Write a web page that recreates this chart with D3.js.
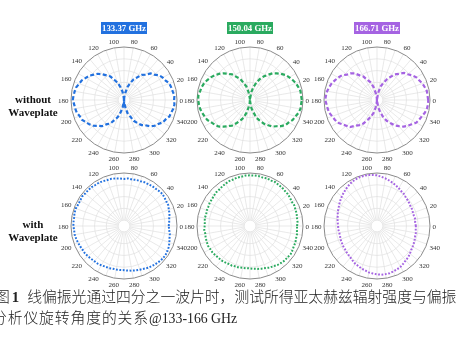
<!DOCTYPE html>
<html><head><meta charset="utf-8">
<script src="https://cdn.jsdelivr.net/npm/d3@7"></script>
<style>
html,body{margin:0;padding:0;background:#fff;}
svg{display:block;will-change:transform;}
</style></head>
<body>
<svg id="c" width="462" height="341"></svg>
<script>
// ---- data ----
const angles = d3.range(0, 360, 5); // analyzer angle (deg)
const freqLabels = ["133.37 GHz", "150.04 GHz", "166.71 GHz"];
const seriesColors = ["#2271df", "#2aaa5f", "#a563e2"];
const rowLabels = [["without", "Waveplate"], ["with", "Waveplate"]];
const angleTicks = d3.range(0, 360, 20);
const ringTicks = [0.2, 0.4, 0.6, 0.8];
const captionLine1 = "线偏振光通过四分之一波片时，测试所得亚太赫兹辐射强度与偏振";
const captionLine2 = "分析仪旋转角度的关系";
const captionLine2b = "@133-166 GHz";

// without waveplate (normalized intensity)
const without133 = [
 .95,.96,.94,.93,.92,.88,.86,.83,.77,.74,.66,.62,.54,.49,.40,.33,.22,.14,
 .03,.13,.24,.32,.41,.47,.56,.61,.67,.73,.77,.82,.85,.89,.91,.94,.95,.96,
 .97,.95,.94,.93,.90,.89,.85,.82,.78,.72,.68,.60,.56,.47,.41,.31,.23,.12,
 .04,.14,.22,.33,.39,.49,.55,.62,.66,.73,.78,.81,.86,.88,.92,.93,.95,.96];
const without150 = [
 .98,.97,.97,.95,.93,.90,.87,.84,.79,.74,.69,.62,.56,.49,.41,.33,.24,.13,
 .04,.12,.23,.34,.40,.50,.55,.63,.68,.74,.79,.83,.87,.90,.93,.95,.96,.98,
 .98,.97,.96,.94,.92,.90,.86,.83,.80,.74,.68,.63,.55,.48,.42,.32,.22,.14,
 .03,.13,.24,.31,.42,.48,.56,.62,.69,.73,.79,.84,.86,.90,.92,.95,.97,.97];
const without166 = [
 .97,.96,.96,.94,.92,.89,.87,.83,.78,.75,.68,.63,.55,.48,.40,.34,.23,.12,
 .03,.14,.22,.33,.42,.47,.56,.61,.69,.74,.77,.83,.86,.89,.92,.94,.96,.97,
 .98,.96,.95,.94,.91,.89,.87,.82,.78,.75,.67,.62,.56,.47,.40,.33,.23,.13,
 .04,.12,.23,.32,.41,.49,.55,.63,.68,.74,.78,.82,.87,.89,.91,.94,.96,.97];
// with waveplate
const with133 = [
 .86,.87,.88,.90,.91,.93,.93,.94,.95,.94,.93,.93,.92,.92,.91,.91,.90,.91,
 .90,.91,.92,.93,.93,.94,.95,.95,.96,.96,.96,.97,.96,.96,.97,.97,.96,.96,
 .96,.95,.95,.94,.93,.92,.91,.91,.90,.89,.88,.88,.87,.86,.86,.85,.85,.85,
 .85,.86,.87,.88,.89,.90,.92,.93,.94,.95,.96,.96,.95,.94,.92,.90,.89,.87];
const with150 = [
 .90,.91,.91,.92,.92,.93,.92,.93,.94,.94,.95,.95,.96,.95,.96,.95,.96,.96,
 .96,.96,.95,.95,.94,.94,.93,.92,.91,.91,.90,.89,.89,.88,.88,.87,.88,.87,
 .87,.88,.87,.88,.88,.89,.88,.88,.87,.86,.86,.85,.84,.84,.83,.83,.82,.82,
 .82,.83,.84,.85,.86,.88,.89,.91,.92,.93,.93,.94,.93,.92,.92,.91,.91,.90];
const with166 = [
 .76,.75,.76,.75,.75,.76,.76,.77,.78,.79,.81,.82,.84,.86,.88,.90,.92,.94,
 .96,.97,.98,.98,.98,.97,.96,.94,.92,.90,.88,.86,.84,.82,.81,.79,.78,.77,
 .76,.76,.75,.75,.76,.76,.77,.77,.78,.79,.80,.82,.84,.85,.87,.88,.90,.91,
 .92,.93,.93,.93,.92,.91,.90,.88,.86,.85,.83,.81,.80,.79,.78,.77,.77,.76];

const rows = [[without133, without150, without166], [with133, with150, with166]];

// ---- layout ----
const svg = d3.select("#c");
const R = 53;
const cx = [124, 250, 377];
const cy = [100, 226];
// radial axis origin sits slightly above zero (values below it pass through the centre)
const rScale = d3.scaleLinear().domain([0.1, 1]).range([0, R]);
const serif = "'Liberation Serif','Times New Roman',serif";
const cjk = "'Noto Sans CJK SC','Noto Sans CJK JP',sans-serif";

rows.forEach((row, ri) => {
  row.forEach((vals, ci) => {
    const g = svg.append("g").attr("transform", `translate(${cx[ci]},${cy[ri]})`);
    const rIn = rScale(ringTicks[0]);
    // rings
    g.selectAll("circle.ring").data(ringTicks).enter().append("circle")
      .attr("r", d => rScale(d)).attr("fill", "none")
      .attr("stroke", "#e0e0e0").attr("stroke-width", 0.7);
    // spokes
    g.selectAll("line.spoke").data(d3.range(0, 360, 10)).enter().append("line")
      .attr("x1", d => rIn * Math.cos(d * Math.PI / 180))
      .attr("y1", d => -rIn * Math.sin(d * Math.PI / 180))
      .attr("x2", d => R * Math.cos(d * Math.PI / 180))
      .attr("y2", d => -R * Math.sin(d * Math.PI / 180))
      .attr("stroke", "#e0e0e0").attr("stroke-width", 0.7);
    // outer circle
    g.append("circle").attr("r", R).attr("fill", "none")
      .attr("stroke", "#8a8a8a").attr("stroke-width", 1);
    // angle labels
    g.selectAll("text.tick").data(angleTicks).enter().append("text")
      .attr("font-family", serif).attr("font-size", 7).attr("fill", "#333")
      .attr("text-anchor", "middle").attr("dominant-baseline", "central")
      .each(function (d) {
        const a = d * Math.PI / 180;
        const w = String(d).length * 3.5;
        const h = 6.5;
        const rr = R + 2.5 + Math.abs(Math.cos(a)) * w / 2 + Math.abs(Math.sin(a)) * h / 2;
        d3.select(this).attr("x", rr * Math.cos(a)).attr("y", -rr * Math.sin(a) + 0.5).text(d);
      });
    // data line
    const line = d3.lineRadial()
      .angle((d, i) => Math.PI / 2 - angles[i] * Math.PI / 180)
      .radius(d => rScale(d))
      .curve(d3.curveLinearClosed);
    g.append("path").attr("d", line(vals)).attr("fill", "none")
      .attr("stroke", seriesColors[ci])
      .attr("stroke-width", ri === 0 ? 2.2 : 2)
      .attr("stroke-dasharray", ri === 0 ? "4,2.4" : "1.8,1.6");
  });
});

// title boxes
freqLabels.forEach((t, i) => {
  const g = svg.append("g").attr("transform", `translate(${cx[i]},28)`);
  g.append("rect").attr("x", -23).attr("y", -6).attr("width", 46).attr("height", 12)
    .attr("fill", seriesColors[i]);
  g.append("text").attr("text-anchor", "middle").attr("y", 3.1)
    .attr("font-family", serif).attr("font-weight", "bold").attr("font-size", 8.8)
    .attr("fill", "#fff").text(t);
});

// row labels
rowLabels.forEach((lbl, ri) => {
  const base = ri === 0 ? 103 : 228;
  lbl.forEach((t, k) => {
    svg.append("text").attr("x", 33).attr("y", base + k * 13)
      .attr("text-anchor", "middle").attr("font-family", serif)
      .attr("font-weight", "bold").attr("font-size", 11).attr("fill", "#111").text(t);
  });
});

// caption
const cap = svg.append("text").attr("x", -5).attr("y", 302)
  .attr("font-size", 14.8).attr("fill", "#222");
cap.append("tspan").attr("font-family", cjk).attr("font-weight", 300).text("图");
cap.append("tspan").attr("dx", 2).attr("font-family", serif).attr("font-weight", "bold").text("1");
cap.append("tspan").attr("dx", 8).attr("font-family", cjk).attr("font-weight", 300).text(captionLine1);
const cap2 = svg.append("text").attr("x", -8).attr("y", 323)
  .attr("font-size", 14.8).attr("fill", "#222");
cap2.append("tspan").attr("font-family", cjk).attr("font-weight", 300)
  .attr("letter-spacing", 0.9).text(captionLine2);
cap2.append("tspan").attr("font-family", serif).attr("font-size", 13.8).text(captionLine2b);
</script>
</body></html>
